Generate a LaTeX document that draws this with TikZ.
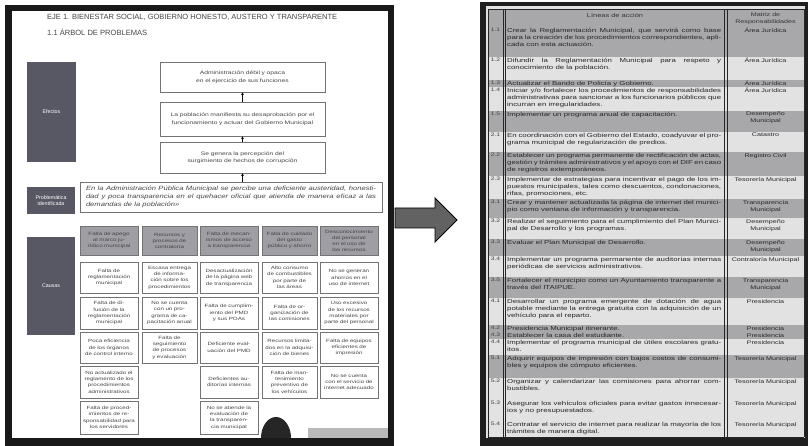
\documentclass[tikz,border=0pt]{standalone}
\usepackage{graphicx}
\usepackage{fontspec}
\setmainfont{Liberation Sans}
\newfontfamily\wide[FakeStretch=1.35]{Liberation Sans}
\newfontfamily\wideb[FakeStretch=1.25]{Liberation Sans}
\usetikzlibrary{arrows.meta}
\definecolor{sidegray}{RGB}{88,88,100}
\definecolor{headgray}{RGB}{158,158,164}
\definecolor{rowgray}{RGB}{168,168,171}
\definecolor{rowlight}{RGB}{226,226,226}
\definecolor{bordgray}{RGB}{115,115,115}
\definecolor{arrowgray}{RGB}{98,98,98}
\definecolor{txtgray}{RGB}{70,70,70}

\newcommand\trow[7]{%
  \fill[#4] (488,#2) rectangle (804,#3);
  \draw[tline] (488,#3) -- (804,#3);
  \node[numt, anchor=north] (n#1) at (495.5,#2) {#5};
  \node[txt, anchor=north west] (t#1) at (506,#2) {#6};
  \node[rsp, anchor=north] (r#1) at (765.5,#2) {#7};
}

\begin{document}
\begin{tikzpicture}[x=1pt,y=-1pt,
  side/.style={fill=sidegray, text=white, font=\fontsize{5.3}{6.3}\selectfont, align=center, inner sep=1pt},
  eff/.style={draw=bordgray, line width=0.9pt, fill=white, align=center, text=txtgray, font=\wide\fontsize{5}{7.5}\selectfont, inner sep=1pt},
  prob/.style={draw=bordgray, line width=0.9pt, fill=white, align=justify, text=txtgray, font=\wideb\itshape\fontsize{6.1}{8}\selectfont, inner sep=2pt},
  hd/.style={draw=bordgray, line width=0.9pt, fill=headgray, align=center, text=txtgray, font=\wide\fontsize{4.6}{6}\selectfont, inner sep=1pt, minimum height=29pt},
  cc/.style={draw=bordgray, line width=0.9pt, fill=white, align=center, text=txtgray, font=\wide\fontsize{4.6}{6.3}\selectfont, inner sep=1pt},
  wA/.style={minimum width=58pt, text width=52pt},
  wB/.style={minimum width=55pt, text width=49pt},
  conn/.style={-{Stealth[length=2.5pt,width=3pt]}, line width=0.6pt, black},
  tline/.style={line width=0.8pt, black!85},
  numt/.style={font=\wide\fontsize{5}{6}\selectfont, inner sep=1pt, text=black!75},
  txt/.style={font=\wide\fontsize{5.8}{7}\selectfont, text width=214pt, align=justify, inner sep=1pt, text=black!85},
  rsp/.style={font=\wide\fontsize{5.3}{7}\selectfont, text width=72pt, align=center, inner sep=1pt, text=black!85}
]
\useasboundingbox (0,0) rectangle (811,446);
\fill[white] (0,0) rectangle (811,446);

% ---------------- left panel ----------------
\fill[black!90] (5,5) rectangle (394,446);
\fill[white] (12,11) rectangle (388,438);

\node[anchor=west, inner sep=0, text=txtgray] (title) at (47,17.5)
  {\resizebox{290pt}{!}{\fontsize{6}{7}\selectfont EJE 1. BIENESTAR SOCIAL, GOBIERNO HONESTO, AUSTERO Y TRANSPARENTE}};
\node[anchor=west, inner sep=0, text=txtgray] (subtitle) at (47,32.5)
  {\resizebox{100pt}{!}{\fontsize{6}{7}\selectfont 1.1 ÁRBOL DE PROBLEMAS}};

\node[side, minimum width=49pt, minimum height=100pt] (efectos) at (51.5,112) {Efectos};
\node[side, minimum width=48pt, minimum height=27pt] (probid) at (51,200.5) {Problemática\\identificada};
\node[side, minimum width=48pt, minimum height=98pt] (causas) at (51,286) {Causas};

\node[eff, minimum width=165pt, minimum height=30pt, text width=150pt] (e1) at (242.5,77)
  {Administración débil y opaca en el ejercicio de sus funciones};
\node[eff, minimum width=165pt, minimum height=34pt, text width=150pt] (e2) at (242.5,119)
  {La población manifiesta su desaprobación por el funcionamiento y actuar del Gobierno Municipal};
\node[eff, minimum width=165pt, minimum height=31pt, text width=150pt] (e3) at (242.5,157.5)
  {Se genera la percepción del surgimiento de hechos de corrupción};
\node[prob, minimum width=302pt, minimum height=30pt, text width=290pt] (p) at (231,197)
  {En la Administración Pública Municipal se percibe una deficiente austeridad, honestidad y poca transparencia en el quehacer oficial que atienda de manera eficaz a las demandas de la población»};

\draw[conn] (p.north -| e3.south) -- (e3.south);
\draw[conn] (e3.north) -- (e2.south);
\draw[conn] (e2.north) -- (e1.south);

% cause headers
\node[hd, wA] (h1) at (109,240.5) {Falta de apego al marco jurídico municipal};
\node[hd, wB] (h2) at (169.5,240.5) {Recursos y procesos de contraloría};
\node[hd, wA] (h3) at (229,240.5) {Falta de mecanismos de acceso a transparencia};
\node[hd, wB] (h4) at (289.5,240.5) {Falta de cuidado del gasto público y ahorro};
\node[hd, wA] (h5) at (349,240.5) {Desconocimiento del personal en el uso de los recursos};

% row 1
\node[cc, wA, minimum height=31pt] (c11) at (109,277.5) {Falta de reglamentación municipal};
\node[cc, wB, minimum height=31pt] (c21) at (169.5,277.5) {Escasa entrega de información sobre los procedimientos};
\node[cc, wA, minimum height=31pt] (c31) at (229,277.5) {Desactualización de la página web de transparencia};
\node[cc, wB, minimum height=31pt] (c41) at (289.5,277.5) {Alto consumo de combustibles por parte de las áreas};
\node[cc, wA, minimum height=31pt] (c51) at (349,277.5) {No se generan ahorros en el uso de internet};
% row 2
\node[cc, wA, minimum height=32pt] (c12) at (109,313) {Falta de difusión de la reglamentación municipal};
\node[cc, wB, minimum height=32pt] (c22) at (169.5,313) {No se cuenta con un programa de capacitación anual};
\node[cc, wA, minimum height=32pt] (c32) at (229,313) {Falta de cumplimiento del PMD y sus POAs};
\node[cc, wB, minimum height=32pt] (c42) at (289.5,313) {Falta de organización de las comisiones};
\node[cc, wA, minimum height=32pt] (c52) at (349,313) {Uso excesivo de los recursos materiales por parte del personal};
% row 3
\node[cc, wA, minimum height=31pt] (c13) at (109,347.5) {Poca eficiencia de los órganos de control interno};
\node[cc, wB, minimum height=31pt] (c23) at (169.5,347.5) {Falta de seguimiento de procesos y evaluación};
\node[cc, wA, minimum height=31pt] (c33) at (229,347.5) {Deficiente evaluación del PMD};
\node[cc, wB, minimum height=31pt] (c43) at (289.5,347.5) {Recursos limitados en la adquisición de bienes};
\node[cc, wA, minimum height=31pt] (c53) at (349,347.5) {Falta de equipos eficientes de impresión};
% row 4
\node[cc, wA, minimum height=32pt] (c14) at (109,382) {No actualizado el reglamento de los procedimientos administrativos};
\node[cc, wA, minimum height=32pt] (c34) at (229,382) {Deficientes auditorías internas};
\node[cc, wB, minimum height=32pt] (c44) at (289.5,382) {Falta de mantenimiento preventivo de los vehículos};
\node[cc, wA, minimum height=32pt] (c54) at (349,382) {No se cuenta con el servicio de internet adecuado};
% row 5
\node[cc, wA, minimum height=33pt] (c15) at (109,417.5) {Falta de procedimientos de responsabilidad para los servidores};
\node[cc, wA, minimum height=33pt] (c35) at (229,417.5) {No se atiende la evaluación de la transparencia municipal};

% bottom decorations
\fill[black!85] (261,438) arc[start angle=180, end angle=360, x radius=15, y radius=21] -- cycle;
\fill[gray!55] (308,428) rectangle (388,438);

% ---------------- block arrow ----------------
\filldraw[fill=arrowgray, draw=black, line width=0.8pt]
  (395,208) -- (435,208) -- (435,198) -- (457,220) -- (435,242) -- (435,228) -- (395,228) -- cycle;

% ---------------- right panel ----------------
\fill[black!88] (480,2) rectangle (808,446);
\fill[rowlight] (486,6) rectangle (805,438);

\fill[rowgray] (488,9) rectangle (804,27);
\draw[tline] (488,9) -- (804,9);
\draw[tline] (488,27) -- (804,27);
\node[font=\wide\fontsize{5.5}{7}\selectfont, text=black!80] (hl) at (615,16) {Líneas de acción};
\node[font=\wide\fontsize{5.3}{7}\selectfont, text=black!80, align=center] (hm) at (765.5,19) {Matriz de\\Responsabilidades};

\trow{11}{27}{57}{rowgray}{1.1}{Crear la Reglamentación Municipal, que servirá como base para la creación de los procedimientos correspondientes, aplicada con esta actuación.}{Área Jurídica}
\trow{12}{57}{80}{rowlight}{1.2}{Difundir la Reglamentación Municipal para respeto y conocimiento de la población.}{Área Jurídica}
\trow{13}{80}{87}{rowgray}{1.3}{Actualizar el Bando de Policía y Gobierno.}{Área Jurídica}
\trow{14}{87}{111}{rowlight}{1.4}{Iniciar y/o fortalecer los procedimientos de responsabilidades administrativas para sancionar a los funcionarios públicos que incurran en irregularidades.}{Área Jurídica}
\trow{15}{111}{132}{rowgray}{1.5}{Implementar un programa anual de capacitación.}{Desempeño\\Municipal}
\trow{21}{132}{152}{rowlight}{2.1}{En coordinación con el Gobierno del Estado, coadyuvar el programa municipal de regularización de predios.}{Catastro}
\trow{22}{152}{176}{rowgray}{2.2}{Establecer un programa permanente de rectificación de actas, gestión y trámites administrativos y el apoyo con el DIF en caso de registros extemporáneos.}{Registro Civil}
\trow{23}{176}{199}{rowlight}{2.3}{Implementar de estrategias para incentivar el pago de los impuestos municipales, tales como descuentos, condonaciones, rifas, promociones, etc.}{Tesorería Municipal}
\trow{31}{199}{218}{rowgray}{3.1}{Crear y mantener actualizada la página de internet del municipio como ventana de información y transparencia.}{Transparencia\\Municipal}
\trow{32}{218}{239}{rowlight}{3.2}{Realizar el seguimiento para el cumplimiento del Plan Municipal de Desarrollo y los programas.}{Desempeño\\Municipal}
\trow{33}{239}{256}{rowgray}{3.3}{Evaluar el Plan Municipal de Desarrollo.}{Desempeño\\Municipal}
\trow{34}{256}{277}{rowlight}{3.4}{Implementar un programa permanente de auditorías internas periódicas de servicios administrativos.}{Contraloría Municipal}
\trow{35}{277}{298}{rowgray}{3.5}{Fortalecer el municipio como un Ayuntamiento transparente a través del ITAIPUE.}{Transparencia\\Municipal}
\trow{41}{298}{325}{rowlight}{4.1}{Desarrollar un programa emergente de dotación de agua potable mediante la entrega gratuita con la adquisición de un vehículo para el reparto.}{Presidencia}
\trow{42}{325}{332}{rowgray}{4.2}{Presidencia Municipal itinerante.}{Presidencia}
\trow{43}{332}{339}{rowgray}{4.3}{Establecer la casa del estudiante.}{Presidencia}
\trow{44}{339}{355}{rowlight}{4.4}{Implementar el programa municipal de útiles escolares gratuitos.}{Presidencia}
\trow{51}{355}{378}{rowgray}{5.1}{Adquirir equipos de impresión con bajos costos de consumibles y equipos de cómputo eficientes.}{Tesorería Municipal}
\trow{52}{378}{400}{rowlight}{5.2}{Organizar y calendarizar las comisiones para ahorrar combustibles.}{Tesorería Municipal}
\trow{53}{400}{421}{rowlight}{5.3}{Asegurar los vehículos oficiales para evitar gastos innecesarios y no presupuestados.}{Tesorería Municipal}
\trow{54}{421}{437}{rowlight}{5.4}{Contratar el servicio de internet para realizar la mayoría de los trámites de manera digital.}{Tesorería Municipal}

\foreach \xx in {488,503,505.5,724,727,804}
  \draw[tline] (\xx,9) -- (\xx,437);
\end{tikzpicture}
\end{document}
